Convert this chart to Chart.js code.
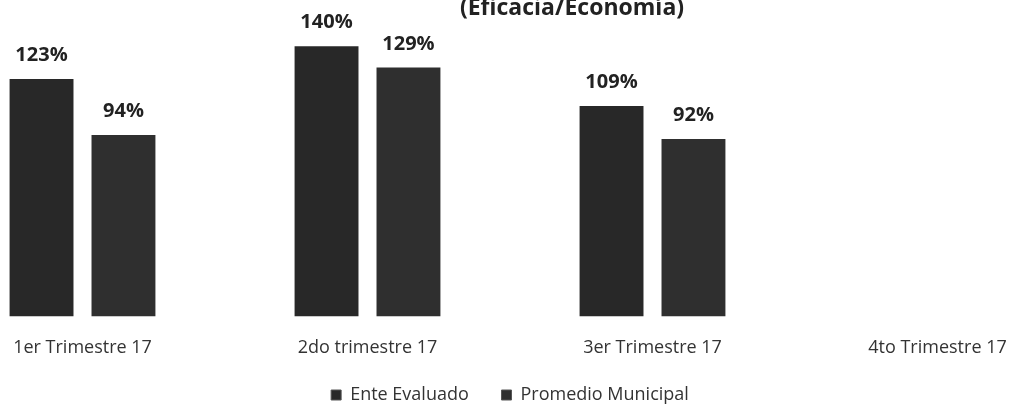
<!DOCTYPE html>
<html>
<head>
<meta charset="utf-8">
<script src="https://cdn.jsdelivr.net/npm/chart.js@4.4.1/dist/chart.umd.min.js"></script>
<style>
    html, body { margin: 0; padding: 0; background: #fff; overflow: hidden; }
    .chart-container { position: absolute; left: -60px; top: 0; width: 1140px; height: 415px; }
</style>
</head>
<body>
<div class="chart-container"><canvas id="trimChart"></canvas></div>
<script>
// Data
const categories = ['1er Trimestre 17', '2do trimestre 17', '3er Trimestre 17', '4to Trimestre 17'];
const enteEvaluado = [123, 140, 109, null];
const promedioMunicipal = [94, 129, 92, null];
const seriesNames = ['Ente Evaluado', 'Promedio Municipal'];
const chartTitle = '(Eficacia/Economía)';

const FONT = "'Open Sans', 'Liberation Sans', sans-serif";

// Draws the percentage above each bar
const valueLabels = {
    id: 'valueLabels',
    afterDatasetsDraw(chart) {
        const ctx = chart.ctx;
        ctx.save();
        ctx.font = 'bold 20px ' + FONT;
        ctx.fillStyle = '#222';
        ctx.textAlign = 'center';
        ctx.textBaseline = 'alphabetic';
        chart.data.datasets.forEach((ds, i) => {
            chart.getDatasetMeta(i).data.forEach((bar, j) => {
                if (ds.data[j] == null) return;
                ctx.fillText(ds.data[j] + '%', bar.x, bar.y - 18);
            });
        });
        ctx.restore();
    }
};

// Second title line (the first line is cut off in the scan)
const titleLine = {
    id: 'titleLine',
    afterDraw(chart) {
        const ctx = chart.ctx;
        const area = chart.chartArea;
        ctx.save();
        ctx.font = 'bold 23px ' + FONT;
        ctx.fillStyle = '#222';
        ctx.textAlign = 'center';
        ctx.textBaseline = 'alphabetic';
        ctx.fillText(chartTitle, (area.left + area.right) / 2 + 62, 15);
        ctx.restore();
    }
};

new Chart(document.getElementById('trimChart'), {
    type: 'bar',
    data: {
        labels: categories,
        datasets: [{
            label: seriesNames[0],
            data: enteEvaluado,
            backgroundColor: '#282828',
            categoryPercentage: 0.575,
            barPercentage: 0.78
        }, {
            label: seriesNames[1],
            data: promedioMunicipal,
            backgroundColor: '#2f2f2f',
            categoryPercentage: 0.575,
            barPercentage: 0.78
        }]
    },
    options: {
        responsive: true,
        maintainAspectRatio: false,
        animation: false,
        layout: { padding: { top: 27, left: 0, right: 0, bottom: 1 } },
        plugins: {
            legend: {
                position: 'bottom',
                labels: {
                    boxWidth: 10,
                    boxHeight: 10,
                    padding: 14,
                    color: '#333',
                    font: { family: FONT, size: 18 },
                    generateLabels(chart) {
                        // wider gap after the first entry, as in the original
                        const items = Chart.defaults.plugins.legend.labels.generateLabels(chart);
                        items.forEach((item, i) => {
                            item.strokeStyle = '#555';
                            item.lineWidth = 1;
                            if (i < items.length - 1) item.text += '    ';
                        });
                        return items;
                    }
                }
            },
            tooltip: { enabled: false }
        },
        scales: {
            x: {
                grid: { display: false },
                border: { display: false },
                ticks: {
                    color: '#333',
                    padding: 13,
                    font: { family: FONT, size: 18 }
                }
            },
            y: {
                display: false,
                min: 0,
                max: 150
            }
        }
    },
    plugins: [valueLabels, titleLine]
});
</script>
</body>
</html>
